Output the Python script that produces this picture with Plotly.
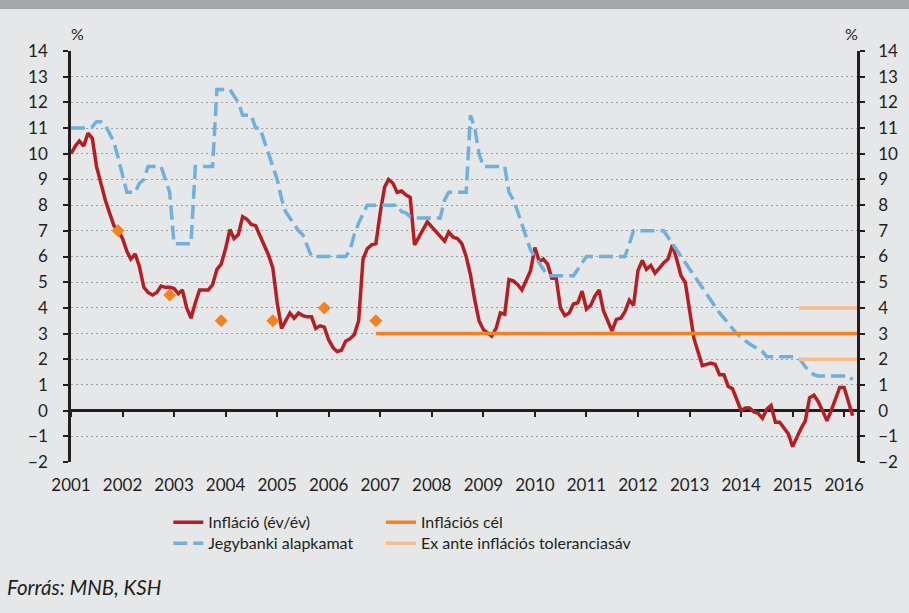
import pandas as pd
import plotly.graph_objects as go

# ---------------- data ----------------
inflation = [
    # 2001
    10.0, 10.3, 10.5, 10.3, 10.8, 10.6, 9.5, 8.8, 8.2, 7.7, 7.2, 7.0,
    # 2002
    6.7, 6.2, 5.9, 6.1, 5.6, 4.8, 4.6, 4.5, 4.6, 4.85, 4.8, 4.8,
    # 2003
    4.75, 4.55, 4.7, 4.0, 3.6, 4.2, 4.7, 4.7, 4.7, 4.9, 5.5, 5.7,
    # 2004
    6.3, 7.05, 6.7, 6.85, 7.55, 7.45, 7.25, 7.2, 6.8, 6.4, 6.05, 5.55,
    # 2005
    4.2, 3.2, 3.5, 3.8, 3.6, 3.8, 3.7, 3.65, 3.65, 3.2, 3.3, 3.25,
    # 2006
    2.75, 2.45, 2.3, 2.35, 2.7, 2.8, 2.95, 3.5, 5.9, 6.3, 6.45, 6.5,
    # 2007
    7.7, 8.7, 9.0, 8.85, 8.5, 8.55, 8.4, 8.3, 6.45, 6.75, 7.1, 7.35,
    # 2008
    7.15, 6.95, 6.8, 6.6, 6.95, 6.75, 6.7, 6.5, 6.0, 5.3, 4.3, 3.5,
    # 2009
    3.15, 3.0, 2.9, 3.2, 3.8, 3.75, 5.1, 5.05, 4.9, 4.7, 5.1, 5.45,
    # 2010
    6.35, 5.8, 5.9, 5.7, 5.15, 5.15, 4.0, 3.7, 3.8, 4.15, 4.2, 4.65,
    # 2011
    3.95, 4.1, 4.45, 4.7, 3.9, 3.5, 3.1, 3.55, 3.6, 3.85, 4.3, 4.1,
    # 2012
    5.45, 5.85, 5.5, 5.65, 5.35, 5.55, 5.75, 5.9, 6.45, 5.9, 5.25, 5.0,
    # 2013
    3.85, 2.8, 2.3, 1.75, 1.8, 1.85, 1.8, 1.4, 1.4, 0.95, 0.85, 0.45,
    # 2014
    0.0, 0.1, 0.1, -0.05, -0.1, -0.3, 0.05, 0.2, -0.45, -0.45, -0.7, -0.9,
    # 2015
    -1.4, -1.0, -0.7, -0.4, 0.5, 0.6, 0.35, 0.0, -0.4, 0.0, 0.45, 0.9,
    # 2016
    0.9, 0.35, -0.2,
]

base_rate = [
    # 2001
    11.0, 11.0, 11.0, 11.0, 11.0, 11.05, 11.25, 11.25, 11.1, 10.8, 10.45, 9.85,
    # 2002
    9.2, 8.5, 8.5, 8.5, 8.85, 9.0, 9.5, 9.5, 9.5, 9.5, 9.0, 8.5,
    # 2003
    6.5, 6.5, 6.5, 6.5, 6.5, 9.5, 9.5, 9.5, 9.5, 9.5, 12.5, 12.5,
    # 2004
    12.5, 12.5, 12.25, 12.0, 11.5, 11.5, 11.5, 11.0, 11.0, 10.5, 10.0, 9.5,
    # 2005
    9.0, 8.25, 7.75, 7.5, 7.25, 7.0, 6.85, 6.4, 6.0, 6.0, 6.0, 6.0,
    # 2006
    6.0, 6.0, 6.0, 6.0, 6.0, 6.25, 6.85, 7.3, 7.65, 8.0, 8.0, 8.0,
    # 2007
    8.0, 8.0, 8.0, 8.0, 8.0, 7.75, 7.7, 7.55, 7.5, 7.5, 7.5, 7.5,
    # 2008
    7.5, 7.5, 7.5, 8.2, 8.5, 8.5, 8.5, 8.5, 8.5, 11.5, 11.0, 10.0,
    # 2009
    9.5, 9.5, 9.5, 9.5, 9.5, 9.5, 8.5, 8.2, 7.75, 7.25, 6.75, 6.25,
    # 2010
    6.0, 5.75, 5.5, 5.25, 5.25, 5.25, 5.25, 5.25, 5.25, 5.25, 5.5, 5.75,
    # 2011
    6.0, 6.0, 6.0, 6.0, 6.0, 6.0, 6.0, 6.0, 6.0, 6.0, 6.5, 7.0,
    # 2012
    7.0, 7.0, 7.0, 7.0, 7.0, 7.0, 7.0, 6.75, 6.5, 6.25, 6.0, 5.75,
    # 2013
    5.5, 5.25, 5.0, 4.75, 4.5, 4.25, 4.0, 3.8, 3.6, 3.4, 3.2, 3.0,
    # 2014
    2.85, 2.7, 2.6, 2.5, 2.4, 2.3, 2.1, 2.1, 2.1, 2.1, 2.1, 2.1,
    # 2015
    2.1, 2.1, 1.95, 1.7, 1.55, 1.4, 1.35, 1.35, 1.35, 1.35, 1.35, 1.35,
    # 2016
    1.35, 1.35, 1.2,
]

months = pd.date_range("2001-01-01", periods=len(inflation), freq="MS")

target_point_dates = ["2001-12-01", "2002-12-01", "2003-12-01",
                      "2004-12-01", "2005-12-01", "2006-12-01"]
target_point_values = [7.0, 4.5, 3.5, 3.5, 4.0, 3.5]

target_line_dates = ["2006-12-01", "2016-04-01"]
target_line_values = [3.0, 3.0]

tolerance_dates = ["2015-02-15", "2016-04-01"]
tolerance_upper = [4.0, 4.0]
tolerance_lower = [2.0, 2.0]

year_labels = [str(y) for y in range(2001, 2017)]
year_tick_dates = [f"{y}-01-01" for y in range(2001, 2017)]
y_values = list(range(-2, 15))
y_labels = [str(v).replace("-", "\u2212") for v in y_values]

x_range = ["2001-01-01", "2016-04-01"]
y_range = [-2, 14]

# ---------------- style ----------------
BG = "#e6e7e8"
INK = "#231f20"
RED = "#b41f24"
BLUE = "#6fb0dc"
ORANGE = "#f58220"
LIGHT_ORANGE = "#f9bc8a"
FONT = "Lato"

fig = go.Figure()

fig.add_trace(go.Scatter(
    x=months, y=inflation, mode="lines", name="Infláció (év/év)",
    line=dict(color=RED, width=3.5), legend="legend"))
fig.add_trace(go.Scatter(
    x=months, y=base_rate, mode="lines", name="Jegybanki alapkamat",
    line=dict(color=BLUE, width=3.5, dash="14px,6px"), legend="legend3"))
fig.add_trace(go.Scatter(
    x=target_line_dates, y=target_line_values, mode="lines", name="Inflációs cél",
    line=dict(color=ORANGE, width=3.5), legend="legend2", legendgroup="cel",
    xaxis="x2"))
fig.add_trace(go.Scatter(
    x=target_point_dates, y=target_point_values, mode="markers",
    name="Inflációs cél", showlegend=False, legendgroup="cel",
    marker=dict(symbol="diamond", size=10, color=ORANGE), xaxis="x2"))
fig.add_trace(go.Scatter(
    x=tolerance_dates, y=tolerance_upper, mode="lines",
    name="Ex ante inflációs toleranciasáv",
    line=dict(color=LIGHT_ORANGE, width=3.5), legend="legend4",
    legendgroup="tol", yaxis="y2"))
fig.add_trace(go.Scatter(
    x=tolerance_dates, y=tolerance_lower, mode="lines",
    name="Ex ante inflációs toleranciasáv", showlegend=False,
    line=dict(color=LIGHT_ORANGE, width=3.5), legendgroup="tol",
    yaxis="y2"))

tick_font = dict(family=FONT, size=17, color=INK)
legend_font = dict(family=FONT, size=16, color=INK)


def legend_box(x, y):
    return dict(x=x, y=y, xanchor="left", yanchor="top",
                bgcolor="rgba(0,0,0,0)", font=legend_font,
                tracegroupgap=0, itemwidth=30)


col1, col2 = 0.1238, 0.3944
row1, row2 = -0.1054, -0.1565

fig.update_layout(
    width=909, height=613,
    paper_bgcolor=BG, plot_bgcolor=BG,
    margin=dict(l=71, r=52, t=51, b=151),
    font=dict(family=FONT, size=17, color=INK),
    xaxis=dict(
        type="date", range=x_range,
        tickmode="array", tickvals=year_tick_dates, ticktext=year_labels,
        ticks="", showline=False, showgrid=False, zeroline=False,
        tickfont=tick_font, ticklabelstandoff=11,
    ),
    xaxis2=dict(
        type="date", range=x_range, overlaying="x", anchor="free",
        position=0.125, side="bottom",
        tickmode="array", tickvals=year_tick_dates,
        ticks="outside", ticklen=5, tickwidth=2, tickcolor=INK,
        showticklabels=False, showline=False, showgrid=False, zeroline=False,
    ),
    yaxis=dict(
        range=y_range, tickmode="array", tickvals=y_values, ticktext=y_labels,
        ticks="outside", ticklen=5, tickwidth=2, tickcolor=INK,
        showline=True, linewidth=2.5, linecolor=INK,
        showgrid=True, gridcolor="#9d9fa2", gridwidth=1.3, griddash="2px,3px",
        zeroline=True, zerolinecolor=INK, zerolinewidth=2.5,
        tickfont=tick_font, ticklabelstandoff=12,
    ),
    yaxis2=dict(
        range=y_range, tickmode="array", tickvals=y_values, ticktext=y_labels,
        overlaying="y", side="right", anchor="x",
        ticks="outside", ticklen=5, tickwidth=2, tickcolor=INK,
        showline=True, linewidth=2.5, linecolor=INK,
        showgrid=False, zeroline=False,
        tickfont=tick_font, ticklabelstandoff=10,
    ),
    legend=legend_box(col1, row1),
    legend2=legend_box(col2, row1),
    legend3=legend_box(col1, row2),
    legend4=legend_box(col2, row2),
    showlegend=True,
    shapes=[dict(type="rect", xref="paper", yref="paper",
                 x0=-0.2, x1=1.2, y0=1.0 + 42 / 411, y1=1.2,
                 fillcolor="#a6a7ab", line=dict(width=0), layer="below")],
    annotations=[
        dict(text="%", xref="paper", yref="paper", x=(77 - 71) / 786,
             y=1 + 18 / 411, showarrow=False, xanchor="center", yanchor="middle",
             font=dict(family=FONT, size=16, color=INK)),
        dict(text="%", xref="paper", yref="paper", x=(851 - 71) / 786,
             y=1 + 18 / 411, showarrow=False, xanchor="center", yanchor="middle",
             font=dict(family=FONT, size=16, color=INK)),
        dict(text="<i>Forrás: MNB, KSH</i>", xref="paper", yref="paper",
             x=(5 - 71) / 786, y=-(587 - 462) / 411, showarrow=False,
             xanchor="left", yanchor="middle",
             font=dict(family=FONT, size=20.5, color=INK)),
    ],
)

fig.write_html("out.html",
               config={"displayModeBar": False},
               post_script="document.body.style.margin='0';"
                           "document.body.style.overflow='hidden';")
